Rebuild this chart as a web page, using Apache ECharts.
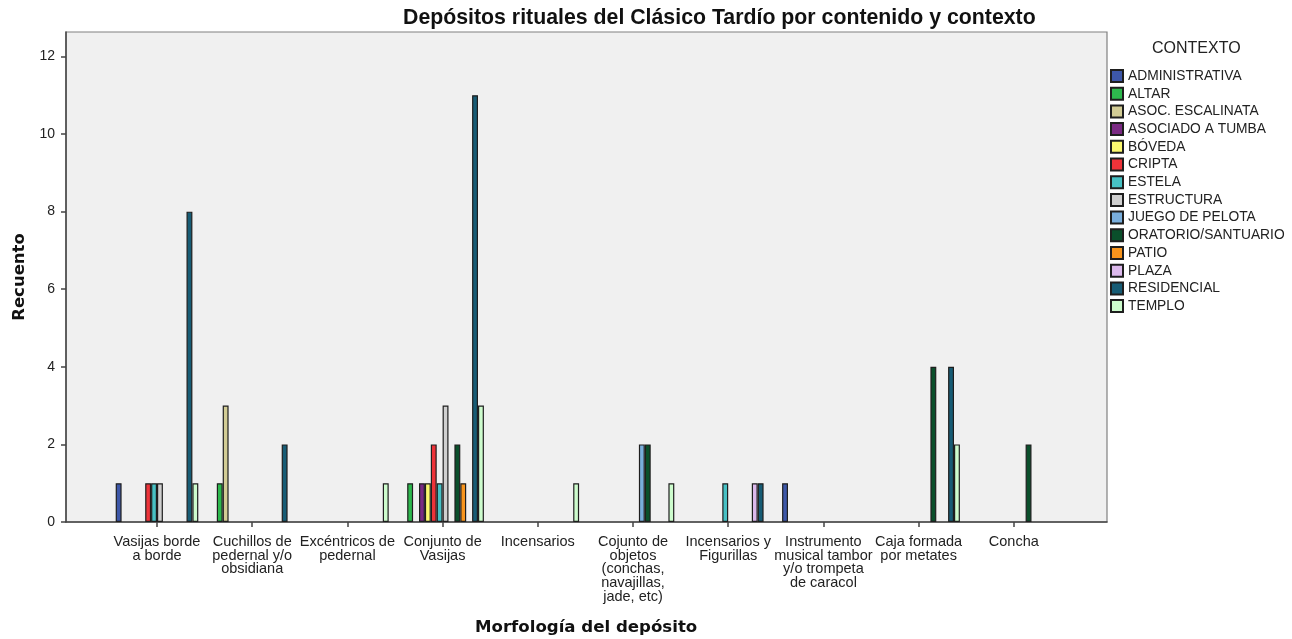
<!DOCTYPE html>
<html>
<head>
<meta charset="utf-8">
<title>Depósitos rituales del Clásico Tardío</title>
<script src="https://cdn.jsdelivr.net/npm/echarts@6/dist/echarts.min.js"></script>
<style>
  html, body { margin: 0; padding: 0; background: #fff; }
  #chart { width: 1292px; height: 639px; }
</style>
</head>
<body>
<div id="chart"></div>
<script>
// categorias del eje X (morfologia del deposito)
var categories = [
  'Vasijas borde\na borde',
  'Cuchillos de\npedernal y/o\nobsidiana',
  'Excéntricos de\npedernal',
  'Conjunto de\nVasijas',
  'Incensarios',
  'Cojunto de\nobjetos\n(conchas,\nnavajillas,\njade, etc)',
  'Incensarios y\nFigurillas',
  'Instrumento\nmusical tambor\ny/o trompeta\nde caracol',
  'Caja formada\npor metates',
  'Concha'
];

// recuento por contexto, en el orden de las categorias
var administrativa = [1, 0, 0, 0, 0, 0, 0, 1, 0, 0];
var altar          = [0, 1, 0, 1, 0, 0, 0, 0, 0, 0];
var asocEscalinata = [0, 3, 0, 0, 0, 0, 0, 0, 0, 0];
var asocTumba      = [0, 0, 0, 1, 0, 0, 0, 0, 0, 0];
var boveda         = [0, 0, 0, 1, 0, 0, 0, 0, 0, 0];
var cripta         = [1, 0, 0, 2, 0, 0, 0, 0, 0, 0];
var estela         = [1, 0, 0, 1, 0, 0, 1, 0, 0, 0];
var estructura     = [1, 0, 0, 3, 0, 0, 0, 0, 0, 0];
var juegoPelota    = [0, 0, 0, 0, 0, 2, 0, 0, 0, 0];
var oratorio       = [0, 0, 0, 2, 0, 2, 0, 0, 4, 2];
var patio          = [0, 0, 0, 1, 0, 0, 0, 0, 0, 0];
var plaza          = [0, 0, 0, 0, 0, 0, 1, 0, 0, 0];
var residencial    = [8, 2, 0, 11, 0, 0, 1, 0, 4, 0];
var templo         = [1, 0, 1, 3, 1, 1, 0, 0, 2, 0];

var yTicks = [0, 2, 4, 6, 8, 10, 12];

var contextos = [
  { name: 'ADMINISTRATIVA', data: administrativa, color: '#3d57a8' },
  { name: 'ALTAR', data: altar, color: '#2db84d' },
  { name: 'ASOC. ESCALINATA', data: asocEscalinata, color: '#d2cc95' },
  { name: 'ASOCIADO A TUMBA', data: asocTumba, color: '#7a2a83' },
  { name: 'BÓVEDA', data: boveda, color: '#fbf86f' },
  { name: 'CRIPTA', data: cripta, color: '#ee3339' },
  { name: 'ESTELA', data: estela, color: '#47c1c4' },
  { name: 'ESTRUCTURA', data: estructura, color: '#cfcfcf' },
  { name: 'JUEGO DE PELOTA', data: juegoPelota, color: '#79aedc' },
  { name: 'ORATORIO/SANTUARIO', data: oratorio, color: '#0a4f2b' },
  { name: 'PATIO', data: patio, color: '#f7941d' },
  { name: 'PLAZA', data: plaza, color: '#dcb9ec' },
  { name: 'RESIDENCIAL', data: residencial, color: '#175c75' },
  { name: 'TEMPLO', data: templo, color: '#cdfccd' }
];

var FONT = '"Liberation Sans", Arial, sans-serif';
var yMax = 12.63;

var chart = echarts.init(document.getElementById('chart'));

var series = contextos.map(function (c) {
  return {
    name: c.name,
    type: 'bar',
    xAxisIndex: 1,
    yAxisIndex: 1,
    barWidth: 5.9,
    barGap: '0%',
    // SPSS no dibuja las celdas vacias
    data: c.data.map(function (v) { return v === 0 ? '-' : v; }),
    itemStyle: { color: c.color, borderColor: '#1e1e1e', borderWidth: 1.2 },
    emphasis: { disabled: true }
  };
});

var option = {
  animation: false,
  backgroundColor: '#fff',
  grid: [
    // area gris del grafico
    { left: 66, right: 185, top: 32, bottom: 117, show: true, outerBoundsMode: 'none',
      backgroundColor: '#f0f0f0', borderColor: '#808080', borderWidth: 1.2 },
    // area de las barras
    { left: 109.4, right: 230.6, top: 32, bottom: 117, outerBoundsMode: 'none' }
  ],
  xAxis: [
    { gridIndex: 0, type: 'value', min: 0, max: 1,
      axisLine: { show: true, lineStyle: { color: '#444', width: 1.5 } },
      axisTick: { show: false }, axisLabel: { show: false }, splitLine: { show: false } },
    { gridIndex: 1, type: 'category', data: categories,
      axisLine: { show: false },
      axisTick: { show: true, alignWithLabel: true, length: 5, lineStyle: { color: '#444', width: 1.5 } },
      axisLabel: { interval: 0, fontFamily: FONT, fontSize: 14.5, lineHeight: 13.7,
        color: '#222', margin: 13 },
      splitLine: { show: false } }
  ],
  yAxis: [
    { gridIndex: 0, type: 'value', min: 0, max: yMax,
      name: 'Recuento', nameLocation: 'middle', nameGap: 38, nameRotate: 90,
      nameTextStyle: { fontFamily: '"DejaVu Sans", sans-serif', fontWeight: 'bold',
        fontSize: 16.5, color: '#111' },
      axisLine: { show: true, lineStyle: { color: '#444', width: 1.5 } },
      axisTick: { show: true, length: 5, customValues: yTicks, lineStyle: { color: '#444', width: 1.5 } },
      axisLabel: { customValues: yTicks, fontFamily: FONT, fontSize: 14, color: '#222', margin: 11 },
      splitLine: { show: false } },
    { gridIndex: 1, type: 'value', min: 0, max: yMax, show: false, splitLine: { show: false } }
  ],
  legend: {
    orient: 'vertical',
    left: 1110,
    top: 69,
    padding: 0,
    itemWidth: 12,
    itemHeight: 12,
    itemGap: 3.7,
    icon: 'rect',
    selectedMode: false,
    textStyle: { fontFamily: FONT, fontSize: 13.8, lineHeight: 12, color: '#222' },
    data: contextos.map(function (c) { return c.name; })
  },
  graphic: [
    { type: 'text', left: 403, top: 8,
      style: { text: 'Depósitos rituales del Clásico Tardío por contenido y contexto',
        font: 'bold 21.3px ' + FONT, fill: '#111' } },
    { type: 'text', left: 1152, top: 41,
      style: { text: 'CONTEXTO', font: '16px ' + FONT, fill: '#222' } },
    { type: 'text', left: 475, top: 619,
      style: { text: 'Morfología del depósito', font: 'bold 16.6px "DejaVu Sans", sans-serif', fill: '#111' } }
  ],
  series: series
};

chart.setOption(option);
</script>
</body>
</html>
